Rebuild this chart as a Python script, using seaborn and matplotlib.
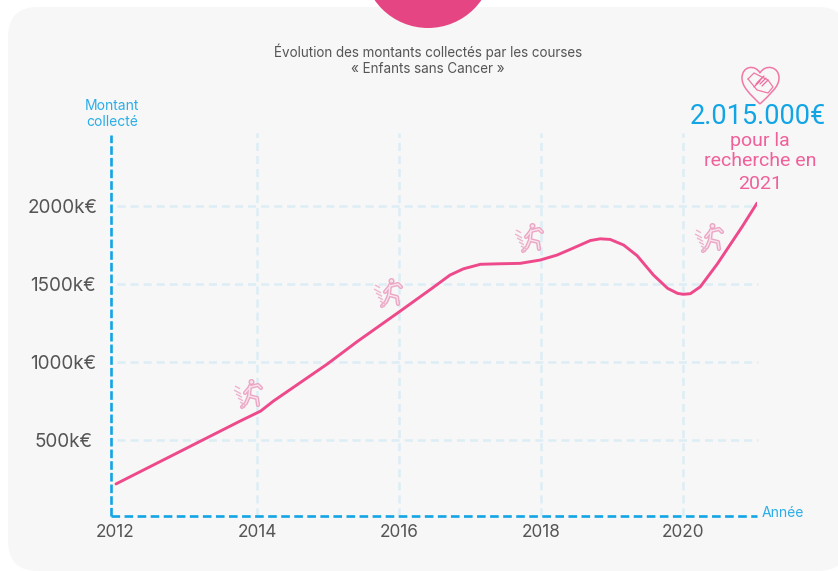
import matplotlib
matplotlib.use('Agg')
import matplotlib.pyplot as plt
from matplotlib.patches import Circle, FancyBboxPatch, PathPatch
from matplotlib.path import Path
import seaborn as sns

# ---------------------------------------------
# Data
# ---------------------------------------------
years = [2012.01, 2013.76, 2014.05, 2014.23, 2014.99, 2015.41, 2015.98, 2016.49,
         2016.72, 2016.91, 2017.15, 2017.39, 2017.71, 2017.99, 2018.23, 2018.42, 2018.70, 2018.84,
         2018.98, 2019.17, 2019.36, 2019.59, 2019.79, 2019.93, 2020.01, 2020.11, 2020.25,
         2020.49, 2020.84, 2021.05]
amounts = [222, 624, 688, 752, 989, 1132, 1315, 1481,
           1558, 1598, 1627, 1630, 1633, 1654, 1686, 1723, 1779, 1790,
           1786, 1750, 1682, 1558, 1473, 1441, 1435, 1439, 1483,
           1629, 1867, 2018]
year_ticks = [2012, 2014, 2016, 2018, 2020]
amount_ticks = [500, 1000, 1500, 2000]
amount_labels = ['500k€', '1000k€', '1500k€', '2000k€']

W, H = 838, 571
PINK = '#ee4a8b'
BLUE = '#12a5e5'
GRID = '#dcedf5'
PANEL = '#f7f7f7'
TEXT = '#555555'

sns.set_style('white')
plt.rcParams['font.family'] = ['Inter', 'DejaVu Sans']
plt.rcParams['lines.scale_dashes'] = False

fig = plt.figure(figsize=(W / 100, H / 100), dpi=100, facecolor='white')

# ---------------------------------------------
# Background layer, in pixel coordinates
# ---------------------------------------------
bg = fig.add_axes([0, 0, 1, 1], zorder=0)
bg.set_xlim(0, W)
bg.set_ylim(H, 0)
bg.axis('off')
bg.add_patch(FancyBboxPatch((8, 7), 840, 564, boxstyle='round,pad=0,rounding_size=30',
                            fc=PANEL, ec='none', clip_on=False))
bg.add_patch(Circle((428, -37), 65, fc='#e64584', ec='none'))

# ---------------------------------------------
# Line chart
# ---------------------------------------------
ax = fig.add_axes([111 / W, 1 - 516 / H, (757 - 111) / W, (516 - 135) / H], zorder=1)
ax.patch.set_alpha(0)
ax.set_xlim(2011.94, 2021.05)
ax.set_ylim(17, 2454)

ax.hlines(amount_ticks, 2012.03, 2021.07, color=GRID, lw=1.8, linestyles=[(0, (5.8, 3.6))], clip_on=False, zorder=1)
ax.vlines(year_ticks[1:], 17, 2466, color=GRID, lw=1.8, linestyles=[(0, (5.8, 3.6))], clip_on=False, zorder=1)

sns.lineplot(x=years, y=amounts, color=PINK, linewidth=2.1, errorbar=None, ax=ax, zorder=3,
             solid_joinstyle='round')

for side in ['top', 'right']:
    ax.spines[side].set_visible(False)
for side, dash in [('left', (6.2, 2.2)), ('bottom', (6.2, 3.2))]:
    ax.spines[side].set_visible(True)
    ax.spines[side].set_color(BLUE)
    ax.spines[side].set_linewidth(1.9)
    ax.spines[side].set_linestyle((0, dash))
    ax.spines[side].set_capstyle('butt')

ax.set_xticks(year_ticks)
ax.set_yticks(amount_ticks)
ax.set_yticklabels(amount_labels)
ax.tick_params(axis='x', length=0, pad=6, labelsize=12.4, labelcolor=TEXT)
ax.tick_params(axis='y', length=0, pad=34.5, labelsize=13.6, labelcolor=TEXT)
for label in ax.get_yticklabels():
    label.set_ha('center')
ax.set_xlabel('')
ax.set_ylabel('')

# ---------------------------------------------
# Texts
# ---------------------------------------------
bg.text(428, 52, 'Évolution des montants collectés par les courses', ha='center', va='center',
        fontsize=9.7, color=TEXT)
bg.text(428, 69, '« Enfants sans Cancer »', ha='center', va='center', fontsize=9.7, color=TEXT)
bg.text(112, 106, 'Montant', ha='center', va='center', fontsize=10, color='#2baee8')
bg.text(112, 122, 'collecté', ha='center', va='center', fontsize=10, color='#2baee8')
bg.text(762, 513, 'Année', ha='left', va='center', fontsize=10, color='#2baee8')
bg.text(758, 117, '2.015.000€', ha='center', va='center', fontsize=19.5, color=BLUE,
        family=['Roboto', 'DejaVu Sans'])
for y, line in [(141, 'pour la'), (161, 'recherche en'), (184, '2021')]:
    bg.text(760, y, line, ha='center', va='center', fontsize=14, color='#f0609a',
            family=['Roboto', 'DejaVu Sans'])

# ---------------------------------------------
# Decorative icons
# ---------------------------------------------
fg = fig.add_axes([0, 0, 1, 1], zorder=2)
fg.set_xlim(0, W)
fg.set_ylim(H, 0)
fg.axis('off')


def draw_runner(cx, cy):
    limbs = [[(0, -7), (-1, 3)], [(0, -6), (-5, 0)], [(0, -6), (8, -8), (11, -5)],
             [(-1, 3), (-4, 10), (-8, 14)], [(-1, 3), (7, 5), (8, 12)]]
    for width, colour in [(3.0, '#eba6c4'), (1.0, '#f9e3ec')]:
        for limb in limbs:
            fg.plot([cx + p[0] for p in limb], [cy + p[1] for p in limb], color=colour,
                    lw=width, solid_capstyle='round')
    fg.add_patch(Circle((cx + 1.5, cy - 11), 2.3, fc='#f9e3ec', ec='#eba6c4', lw=1))
    for x0, y0, length in [(-15, -7, 5), (-16, -3, 7), (-14, 1, 6), (-12, 5, 5), (-10, 9, 5), (-8, 13, 3)]:
        fg.plot([cx + x0, cx + x0 + length], [cy + y0, cy + y0 + length * 0.55], color='#eeb4cd',
                lw=1, solid_capstyle='butt')


for cx, cy in [(250, 393), (390, 292), (531, 237), (711, 237)]:
    draw_runner(cx, cy)

heart = Path([(760, 104), (750, 94), (742, 87), (742, 78), (742, 66), (755, 64), (760, 73),
              (765, 64), (779, 66), (779, 78), (779, 87), (770, 94), (760, 104)],
             [Path.MOVETO, Path.CURVE4, Path.CURVE4, Path.CURVE4, Path.CURVE4, Path.CURVE4, Path.CURVE4,
              Path.CURVE4, Path.CURVE4, Path.CURVE4, Path.CURVE4, Path.CURVE4, Path.CURVE4])
fg.add_patch(PathPatch(heart, fc='none', ec='#f178a6', lw=1.1))
fg.plot([748, 754, 768, 773, 768, 757, 748], [79, 73, 80, 87, 93, 90, 79], color='#f178a6', lw=0.9)
for x0, y0 in [(756, 78), (758, 76), (760, 78), (762, 80), (754, 81)]:
    fg.plot([x0, x0 + 6], [y0 + 6, y0], color='#ee6a9e', lw=0.9)

fig.savefig('out.png', dpi=100)
